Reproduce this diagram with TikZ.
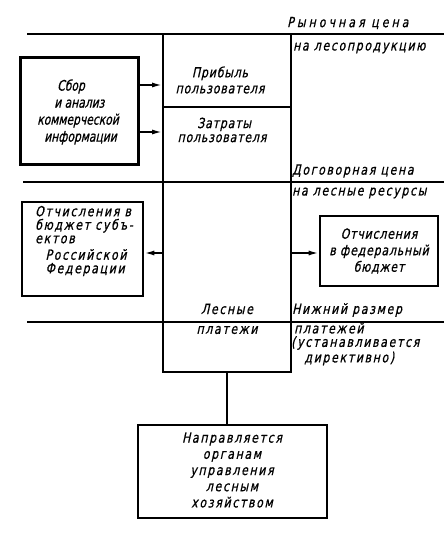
\documentclass[tikz,border=0pt]{standalone}
\usepackage{fontspec}
\setmainfont{DejaVu Sans}
\newfontfamily\gost[LetterSpace=12,FakeStretch=0.78,FakeBold=0.8,FakeSlant=0.22]{DejaVu Sans}
\newfontfamily\gostw[LetterSpace=22,FakeStretch=0.78,FakeBold=0.8,FakeSlant=0.22]{DejaVu Sans}
\newfontfamily\gostn[LetterSpace=6,FakeStretch=0.78,FakeBold=0.8,FakeSlant=0.22]{DejaVu Sans}
\newfontfamily\gostc[LetterSpace=0,FakeStretch=0.74,FakeBold=0.8,FakeSlant=0.22]{DejaVu Sans}
\usetikzlibrary{arrows.meta}
\tikzset{
  box/.style={draw, line width=2.6pt, inner sep=0pt, align=center},
  colbox/.style={draw, line width=1.7pt, inner sep=0pt},
  rule/.style={line width=1.7pt},
  arr/.style={line width=1.7pt, -{Latex[length=10pt,width=5pt]}},
  lbl/.style={inner sep=0pt, anchor=west},
  txt/.style={inner sep=0pt, align=center},
}
\begin{document}
\begin{tikzpicture}[x=1pt,y=-1pt,font=\gost\fontsize{14}{15.5}\selectfont, text=black]
\useasboundingbox (0,0) rectangle (444,540);
% central column
\node[colbox, minimum width=128pt, minimum height=338pt] (col) at (227,203) {};
% horizontal rules
\coordinate (h1l) at (27,34);  \coordinate (h1r) at (444,34);
\coordinate (h2l) at (23,182); \coordinate (h2r) at (444,182);
\coordinate (h3l) at (27,322); \coordinate (h3r) at (444,322);
\draw[rule] (h1l) -- (h1r);
\draw[rule] (h2l) -- (h2r);
\draw[rule] (h3l) -- (h3r);
\coordinate (dv) at (0,107);
\draw[rule] (col.west |- dv) -- (col.east |- dv);
% boxes
\node[box, line width=3pt, minimum width=118pt, minimum height=107pt] (sbor) at (79,111.5) {};
\node[txt, align=left, font=\gostc\fontsize{14.5}{17}\selectfont] (sborT) at (78,112)
  {\hspace*{20pt}Сбор\\\hspace*{17pt}и анализ\\коммерческой\\\hspace*{7pt}информации};
\node[box, minimum width=121pt, minimum height=94pt] (otch) at (82.5,249) {};
\node[txt, align=left, font=\gost\fontsize{14}{13.5}\selectfont] (otchT) at (84,241)
  {Отчисления в\\бюджет субъ-\\ектов\\[3pt]\ \ Российской\\\ \ Федерации};
\node[box, minimum width=118pt, minimum height=70pt] (fed) at (379,251) {};
\node[txt, font=\gostn\fontsize{14}{16.5}\selectfont] (fedT) at (379,251)
  {Отчисления\\в федеральный\\бюджет};
\node[box, minimum width=189pt, minimum height=93pt] (napr) at (232.5,471.5) {};
\node[txt, font=\gost\fontsize{14}{16.2}\selectfont] (naprT) at (232,470)
  {Направляется\\органам\\управления\\лесным\\хозяйством};
% texts in column
\node[txt, font=\gostn\fontsize{14}{16}\selectfont] (prib) at (220,80) {Прибыль\\пользователя};
\node[txt, font=\gostn\fontsize{14}{14}\selectfont] (zatr) at (222,130) {\ Затраты\\пользователя};
\node[txt] (les) at (227,309) {Лесные};
\node[txt] (plat) at (227,330) {платежи};
% right-side labels
\node[lbl, font=\gostw\fontsize{14}{15}\selectfont] (rc) at (287,23) {Рыночная цена};
\node[lbl] (nalp) at (293,48) {на лесопродукцию};
\node[lbl] (dc) at (292,171) {Договорная цена};
\node[lbl] (nalr) at (292,193) {на лесные ресурсы};
\node[lbl] (nr) at (292,310) {Нижний размер};
\node[lbl, align=left] (pl) at (294,344) {платежей\\[-2pt]\hspace*{-3pt}(устанавливается\\\ \ директивно)};
% connectors
\coordinate (a1) at (0,85);
\coordinate (a2) at (0,132);
\coordinate (a3) at (0,253);
\draw[arr] (sbor.east |- a1) -- (col.west |- a1);
\draw[arr] (sbor.east |- a2) -- (col.west |- a2);
\draw[arr] (col.west |- a3) -- (otch.east |- a3);
\draw[arr] (col.east |- a3) -- (fed.west |- a3);
\draw[rule] (col.south) -- (col.south |- napr.north);
\end{tikzpicture}
\end{document}
